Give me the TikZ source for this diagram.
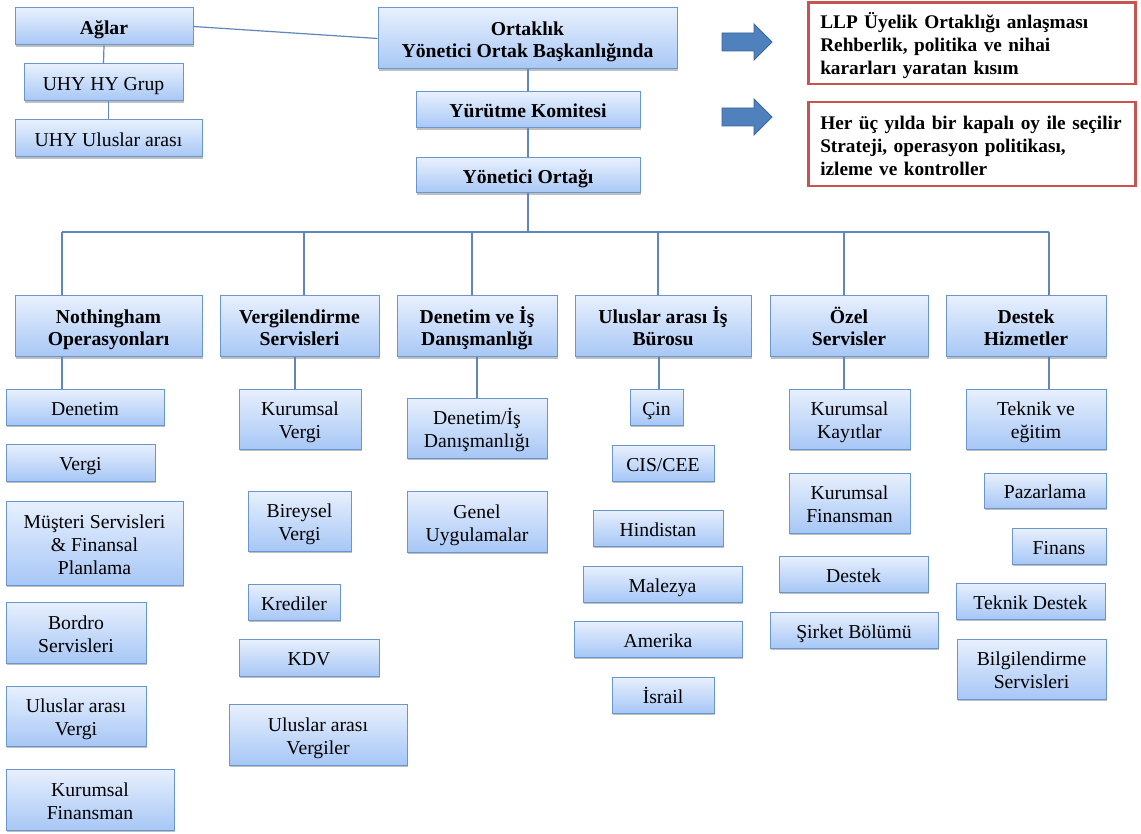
\documentclass[tikz,border=0pt]{standalone}
\usepackage{fontspec}
\setmainfont{Liberation Serif}
\usetikzlibrary{shadows}

\definecolor{boxtop}{HTML}{E8F0FD}
\definecolor{boxbot}{HTML}{A7C7F6}
\definecolor{boxline}{HTML}{6A96CE}
\definecolor{linkc}{HTML}{5F87BA}
\definecolor{arrowfill}{HTML}{4F81BD}
\definecolor{arrowline}{HTML}{3C6798}
\definecolor{notec}{HTML}{C9534F}

% struts: fixed height for the first text line, fixed depth for the last one
\newcommand\topstrut{\rule{0pt}{20.5pt}}
\newcommand\botstrut{\rule[-4.5pt]{0pt}{4.5pt}}
% \orgnode[style]{name}{x1}{y1}{x2}{y2}{text}: box spanning the given corners
\newcommand\orgnode[7][ubox]{%
  \node[#1, minimum width=#5pt-#3pt, minimum height=#6pt-#4pt]
    (#2) at ({(#3+#5)/2},{(#4+#6)/2}) {\topstrut#7\botstrut};}

\begin{document}
\begin{tikzpicture}[x=1pt,y=-1pt,
  ubox/.style={draw=boxline, line width=1pt, top color=boxtop, bottom color=boxbot,
    inner sep=0pt, align=center, font=\fontsize{19.7}{23}\selectfont,
    drop shadow={shadow xshift=1pt, shadow yshift=-1.8pt, fill=black, opacity=0.25}},
  bbox/.style={ubox, font=\fontsize{19.7}{22.5}\selectfont\bfseries},
  link/.style={draw=linkc, line width=1.2pt},
  note/.style={draw=notec, line width=2.5pt, fill=white, inner xsep=12pt, inner ysep=0pt,
    text width=303pt, align=left, anchor=north west,
    font=\fontsize{19.3}{22.8}\selectfont\bfseries},
  blockarrow/.style={fill=arrowfill, draw=arrowline, line width=0.8pt}]

\fill[white] (0,0) rectangle (1141,834);
\useasboundingbox (0,0) rectangle (1141,834);

% top management
\orgnode[bbox]{agl}{15}{8}{193}{45}{Ağlar}
\orgnode{uhyhy}{24}{64}{183}{101}{UHY HY Grup}
\orgnode{uhyint}{15}{120}{202}{157}{UHY Uluslar arası}
\orgnode[bbox]{ortak}{378}{8}{677}{69}{Ortaklık\\Yönetici Ortak Başkanlığında}
\orgnode[bbox]{yurut}{416}{92}{640}{128}{Yürütme Komitesi}
\orgnode[bbox]{yonet}{416}{158}{640}{193}{Yönetici Ortağı}

% notes with block arrows
\draw[blockarrow] (722,33) -- (754,33) -- (754,24) -- (772,42) -- (754,60) -- (754,51) -- (722,51) -- cycle;
\draw[blockarrow] (722,108) -- (754,108) -- (754,99) -- (772,117) -- (754,135) -- (754,126) -- (722,126) -- cycle;
\node[note, minimum height=81.5pt] (note1) at (807,1.5)
  {\topstrut\mbox{LLP Üyelik Ortaklığı anlaşması}\\\mbox{Rehberlik, politika ve nihai}\\\mbox{kararları yaratan kısım}\botstrut};
\node[note, minimum height=84pt] (note2) at (807,101)
  {\topstrut\mbox{Her üç yılda bir kapalı oy ile seçilir}\\\mbox{Strateji, operasyon politikası,}\\\mbox{izleme ve kontroller}\botstrut};

% departments
\orgnode[bbox]{nott}{15}{296}{202}{357}{Nothingham\\Operasyonları}
\orgnode[bbox]{verg}{220}{296}{379}{357}{Vergilendirme\\Servisleri}
\orgnode[bbox]{dend}{397}{296}{557}{357}{Denetim ve İş\\Danışmanlığı}
\orgnode[bbox]{ulus}{575}{296}{751}{357}{Uluslar arası İş\\Bürosu}
\orgnode[bbox]{ozel}{770}{296}{928}{357}{Özel\\Servisler}
\orgnode[bbox]{dest}{946}{296}{1106}{357}{Destek\\Hizmetler}

% Nothingham units
\orgnode{n1}{6}{389}{164}{425}{Denetim}
\orgnode{n2}{6}{444}{155}{481}{Vergi}
\orgnode{n3}{6}{501}{183}{585}{Müşteri Servisleri\\\& Finansal\\Planlama}
\orgnode{n4}{6}{602}{146}{663}{Bordro\\Servisleri}
\orgnode{n5}{6}{686}{146}{746}{Uluslar arası\\Vergi}
\orgnode{n6}{6}{769}{174}{830}{Kurumsal\\Finansman}

% tax units
\orgnode{v1}{239}{389}{361}{449}{Kurumsal\\Vergi}
\orgnode{v2}{248}{491}{351}{551}{Bireysel\\Vergi}
\orgnode{v3}{248}{584}{340}{620}{Krediler}
\orgnode{v4}{239}{639}{379}{676}{KDV}
\orgnode{v5}{229}{704}{407}{765}{Uluslar arası\\Vergiler}

% audit units
\orgnode{d1}{407}{398}{547}{458}{Denetim/İş\\Danışmanlığı}
\orgnode{d2}{407}{491}{547}{552}{Genel\\Uygulamalar}

% international desks
\orgnode{u1}{630}{389}{683}{425}{Çin}
\orgnode{u2}{612}{445}{714}{481}{CIS/CEE}
\orgnode{u3}{593}{510}{723}{546}{Hindistan}
\orgnode{u4}{583}{566}{742}{602}{Malezya}
\orgnode{u5}{574}{621}{742}{657}{Amerika}
\orgnode{u6}{612}{677}{714}{713}{İsrail}

% special services
\orgnode{o1}{789}{389}{910}{449}{Kurumsal\\Kayıtlar}
\orgnode{o2}{789}{473}{910}{533}{Kurumsal\\Finansman}
\orgnode{o3}{779}{556}{928}{592}{Destek}
\orgnode{o4}{770}{612}{938}{648}{Şirket Bölümü}

% support services
\orgnode{s1}{966}{389}{1106}{449}{Teknik ve\\eğitim}
\orgnode{s2}{984}{473}{1106}{508}{Pazarlama}
\orgnode{s3}{1012}{528}{1106}{564}{Finans}
\orgnode{s4}{956}{583}{1105}{619}{Teknik Destek}
\orgnode{s5}{957}{639}{1106}{699}{Bilgilendirme\\Servisleri}

% connectors
\coordinate (bt) at (528,232);
\coordinate (b1) at (62,232);
\coordinate (b2) at (304,232);
\coordinate (b3) at (472,232);
\coordinate (b4) at (658,232);
\coordinate (b5) at (844,232);
\coordinate (b6) at (1049,232);
\coordinate (c1) at (62,0);
\coordinate (c2) at (295,0);
\coordinate (c3) at (477,0);
\coordinate (c4) at (659,0);
\coordinate (c5) at (844,0);
\coordinate (c6) at (1049,0);

\draw[link] (agl.east) -- (ortak.west);
\draw[link] (agl.south) -- (uhyhy.north);
\draw[link] (uhyint.north |- uhyhy.south) -- (uhyint.north);
\draw[link] (yurut.north |- ortak.south) -- (yurut.north);
\draw[link] (yurut.south) -- (yonet.north);
\draw[link] (yonet.south) -- (bt);
\draw[link] (b1) -- (b6);
\draw[link] (b1) -- (b1 |- nott.north);
\draw[link] (b2) -- (b2 |- verg.north);
\draw[link] (b3) -- (b3 |- dend.north);
\draw[link] (b4) -- (b4 |- ulus.north);
\draw[link] (b5) -- (b5 |- ozel.north);
\draw[link] (b6) -- (b6 |- dest.north);

\draw[link] (c1 |- nott.south) -- (c1 |- n1.north);
\draw[link] (c2 |- verg.south) -- (c2 |- v1.north);
\draw[link] (c3 |- dend.south) -- (c3 |- d1.north);
\draw[link] (c4 |- ulus.south) -- (c4 |- u1.north);
\draw[link] (c5 |- ozel.south) -- (c5 |- o1.north);
\draw[link] (c6 |- dest.south) -- (c6 |- s1.north);
\end{tikzpicture}
\end{document}
